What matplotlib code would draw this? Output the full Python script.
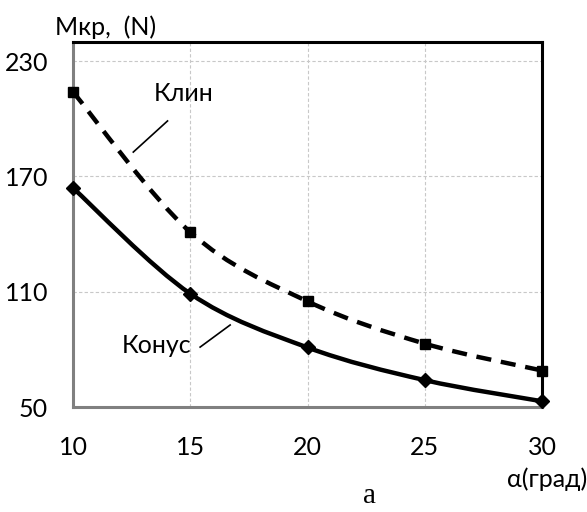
import numpy as np
import matplotlib.pyplot as plt
from matplotlib.path import Path
from matplotlib.patches import PathPatch

# Данные
alpha = [10, 15, 20, 25, 30]
klin = [214, 141, 105, 83, 69]
konus = [164, 109, 81, 64, 53]
y_ticks = [50, 110, 170, 230]
x_ticks = [10, 15, 20, 25, 30]

plt.rcParams['font.family'] = ['Lato', 'DejaVu Sans']


def smooth_path(x, y):
    # кривая Безье как "сглаженная линия" в Excel
    pts = np.column_stack([x, y]).astype(float)
    n = len(pts)
    verts = [pts[0]]
    codes = [Path.MOVETO]
    for i in range(n - 1):
        p0 = pts[i - 1] if i > 0 else pts[i]
        p1 = pts[i]
        p2 = pts[i + 1]
        p3 = pts[i + 2] if i + 2 < n else pts[i + 1]
        c1 = p1 + (p2 - p0) / 6
        c2 = p2 - (p3 - p1) / 6
        verts += [c1, c2, p2]
        codes += [Path.CURVE4] * 3
    return Path(verts, codes)


fig = plt.figure(figsize=(5.87, 5.12), dpi=100)
ax = fig.add_axes([0.1244, 0.205, 0.799, 0.713])

ax.add_patch(PathPatch(smooth_path(alpha, klin), fill=False, color='black',
                       lw=3.2, linestyle=(0, (3.4, 2.2)), capstyle='butt', zorder=3))
ax.add_patch(PathPatch(smooth_path(alpha, konus), fill=False, color='black',
                       lw=3.2, zorder=3))
ax.plot(alpha, klin, linestyle='none', marker='s', ms=7.5, color='black', zorder=4, clip_on=False)
ax.plot(alpha, konus, linestyle='none', marker='D', ms=7.5, color='black', zorder=4, clip_on=False)

ax.set_xlim(10, 30)
ax.set_ylim(50, 240)
ax.set_xticks(x_ticks)
ax.set_yticks(y_ticks)
ax.tick_params(length=0, labelsize=18)
ax.tick_params(axis='x', pad=21)
ax.tick_params(axis='y', pad=18)
ax.grid(True, color='#c8c8c8', linestyle=(0, (3, 2)), lw=0.8)

for s in ['left', 'bottom']:
    ax.spines[s].set_color('#808080')
    ax.spines[s].set_linewidth(2.2)
for s in ['top', 'right']:
    ax.spines[s].set_color('black')
    ax.spines[s].set_linewidth(2.2)

# подписи кривых
ax.text(14.7, 213, 'Клин', fontsize=18, ha='center', va='center')
ax.plot([12.57, 14.03], [182.7, 198.9], color='black', lw=1.2)
ax.text(13.58, 82, 'Конус', fontsize=18, ha='center', va='center')
ax.plot([15.42, 16.7], [81.2, 92.7], color='black', lw=1.2)

fig.text(55 / 587, 1 - 27 / 512, 'Мкр,  (N)', fontsize=18, ha='left', va='center')
fig.text(1.0, 1 - 479 / 512, 'α(град)', fontsize=18, ha='right', va='center')
fig.text(370 / 587, 1 - 496 / 512, 'а', fontsize=21, ha='center', va='center',
         family='Liberation Serif')

fig.savefig('out.png')
